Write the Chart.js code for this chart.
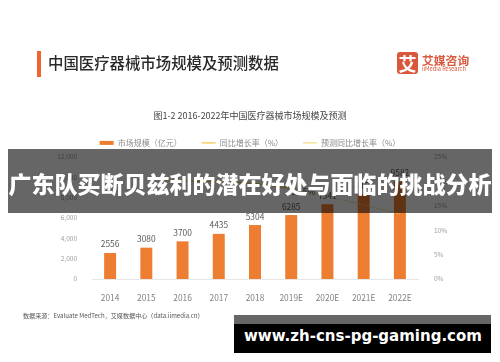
<!DOCTYPE html>
<html lang="zh">
<head>
<meta charset="utf-8">
<script src="https://cdn.jsdelivr.net/npm/chart.js@4"></script>
<style>
html,body{margin:0;padding:0;background:#fff;width:500px;height:362px;overflow:hidden;font-family:"Noto Sans CJK SC","Noto Sans",sans-serif}
#wrap{position:absolute;left:0;top:0;width:500px;height:362px;filter:blur(.55px)}
canvas{position:absolute;left:0;top:0}
.t{position:absolute;white-space:nowrap;line-height:1}
</style>
</head>
<body>
<div id="wrap">
<canvas id="c" width="500" height="362"></canvas>
<div style="position:absolute;left:37px;top:51px;width:4px;height:26px;background:#F0652F"></div>
<div class="t" style="left:48px;top:55px;font-size:15.4px;font-weight:500;color:#2a2a2a">中国医疗器械市场规模及预测数据</div>
<div class="t" style="left:397px;top:52px;width:21px;height:22px;background:#D9583B;border-radius:3px;color:#fff;font-size:18px;font-weight:700;text-align:center;line-height:22px">艾</div>
<div class="t" style="left:422px;top:54px;font-size:11.8px;font-weight:700;color:#D9583B">艾媒咨询</div>
<div class="t" style="left:422px;top:66.5px;font-size:5.6px;color:#D9583B">iiMedia Research</div>
<div class="t" style="left:23px;top:313px;font-size:6.1px;color:#555">数据来源：Evaluate MedTech，艾媒数据中心（data.iimedia.cn）</div>
</div>
<div style="position:absolute;left:8px;top:149px;width:484px;height:64px;background:rgba(0,0,0,.6)"></div>
<div class="t" style="left:8px;top:172px;width:484px;text-align:center;font-size:23px;font-weight:900;color:#fff;filter:blur(.3px)">广东队买断贝兹利的潜在好处与面临的挑战分析</div>
<div style="position:absolute;left:234px;top:315px;width:257px;height:38px;background:#000"></div>
<div style="position:absolute;left:234px;top:315px;width:257px;height:9px;background:#666"></div>
<div class="t" style="left:244px;top:329px;font-family:'DejaVu Sans';font-size:15px;font-weight:700;color:#fff">www.zh-cns-pg-gaming.com</div>
<script>
const categories = ['2014','2015','2016','2017','2018','2019E','2020E','2021E','2022E'];
const marketSize = [2556,3080,3700,4435,5304,6285,7341,8350,9582];
const yoyGrowth = [null,20.5,20.1,19.9,19.6,18.5,null,null,null];
const forecastGrowth = [null,null,null,null,null,18.5,16.8,15.2,13.3];
const lineLabels = [null,null,null,null,null,'18.5%',null,null,null];
const leftTicks = [0,2000,4000,6000,8000,10000,12000];
const rightMax = 25;
const seriesNames = ['市场规模（亿元）','同比增长率（%）','预测同比增长率（%）'];
const chartTitle = '图1-2 2016-2022年中国医疗器械市场规模及预测';
const font = '"Noto Sans CJK SC","Noto Sans",sans-serif';

const valueLabels = {
  id:'valueLabels',
  afterDatasetsDraw(chart){
    const {ctx} = chart;
    ctx.save();
    ctx.font = '8.4px '+font;
    ctx.fillStyle = '#595959';
    ctx.textAlign = 'center';
    ctx.textBaseline = 'bottom';
    chart.getDatasetMeta(0).data.forEach((el,i)=>{
      ctx.fillText(String(marketSize[i]), el.x, el.y-4.5);
    });
    chart.getDatasetMeta(2).data.forEach((el,i)=>{
      if(lineLabels[i]) ctx.fillText(lineLabels[i], el.x+12, el.y+7);
    });
    ctx.restore();
  }
};
new Chart(document.getElementById('c'),{
  data:{labels:categories,datasets:[
    {type:'bar',label:seriesNames[0],data:marketSize,backgroundColor:'#ED7D31',yAxisID:'y',categoryPercentage:1,barPercentage:.33,order:2},
    {type:'line',label:seriesNames[1],data:yoyGrowth,borderColor:'#F2C94C',borderWidth:1.3,pointRadius:0,yAxisID:'y1',order:1},
    {type:'line',label:seriesNames[2],data:forecastGrowth,borderColor:'#F2D675',borderWidth:1.1,borderDash:[1.5,1.5],pointRadius:0,yAxisID:'y1',order:1}
  ]},
  plugins:[valueLabels],
  options:{
    responsive:false,animation:false,
    layout:{padding:{top:110,left:0,right:0,bottom:0}},
    plugins:{
      title:{display:true,text:chartTitle,color:'#444',font:{family:font,size:9,weight:'normal',lineHeight:.7},padding:{top:2.6,bottom:0},align:'center'},
      legend:{position:'top',align:'center',
        labels:{usePointStyle:true,pointStyleWidth:14,boxHeight:4,padding:20,color:'#8a8a8a',font:{family:font,size:8},
          sort:(a,b)=>a.datasetIndex-b.datasetIndex,
          generateLabels(chart){
            const styles=['rect','line','line'];
            return Chart.defaults.plugins.legend.labels.generateLabels(chart).map(l=>Object.assign(l,{pointStyle:styles[l.datasetIndex]}));
          }}},
      tooltip:{enabled:false}
    },
    scales:{
      x:{grid:{display:false},border:{color:'#e6e6e6'},ticks:{color:'#7f7f7f',font:{family:font,size:8.4},maxRotation:0,autoSkip:false,padding:6},
        afterFit(s){s.height=83;}},
      y:{position:'left',min:0,max:12000,grid:{display:false},border:{display:false},
        afterBuildTicks(s){s.ticks=leftTicks.map(v=>({value:v}));},
        ticks:{color:'#a0a0a0',font:{family:font,size:6.5},padding:7},
        afterFit(s){s.width=92;}},
      y1:{position:'right',min:0,max:rightMax,grid:{display:false},border:{display:false},
        ticks:{stepSize:5,color:'#a0a0a0',font:{family:font,size:6.5},padding:8,callback:v=>v+'%'},
        afterFit(s){s.width=82;}}
    }
  }
});
</script>
</body>
</html>
